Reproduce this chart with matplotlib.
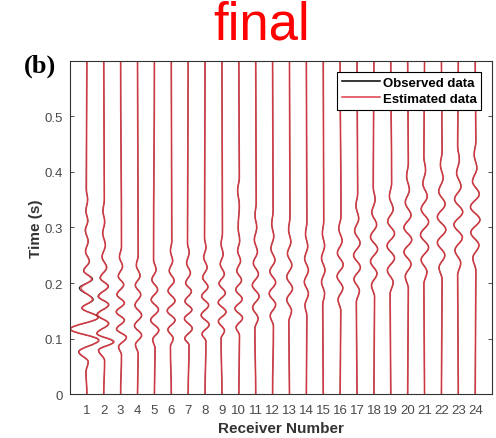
import matplotlib.pyplot as plt
from matplotlib.path import Path
from matplotlib.patches import PathPatch
from matplotlib.lines import Line2D

plt.rcParams['font.family'] = 'Liberation Sans'

# peak/trough picks for each receiver: (time in s, amplitude in trace spacings)
rec01 = [(0.040, -0.05), (0.058, 0.08), (0.076, -0.49), (0.097, 0.69), (0.117, -0.98),
         (0.138, 0.68), (0.155, -0.30), (0.170, 0.38), (0.191, -0.45), (0.207, 0.34),
         (0.222, -0.20), (0.239, 0.15), (0.257, -0.08), (0.275, 0.08), (0.295, -0.10),
         (0.312, 0.06), (0.330, -0.06), (0.350, 0.05), (0.370, -0.04)]
rec02 = [(0.060, 0.05), (0.079, -0.32), (0.094, 0.57), (0.109, -0.41), (0.127, 0.30),
         (0.143, -0.41), (0.161, 0.30), (0.176, -0.34), (0.194, 0.28), (0.209, -0.22),
         (0.228, 0.18), (0.247, -0.10), (0.268, 0.10), (0.290, -0.06), (0.310, 0.06),
         (0.330, -0.05), (0.350, 0.04)]
rec03 = [(0.070, 0.05), (0.085, -0.12), (0.102, 0.34), (0.117, -0.24), (0.133, 0.22),
         (0.148, -0.26), (0.164, 0.22), (0.179, -0.22), (0.197, 0.18), (0.212, -0.14),
         (0.230, 0.11), (0.247, -0.07), (0.265, 0.05)]
rec04 = [(0.072, 0.04), (0.089, -0.12), (0.106, 0.24), (0.123, -0.18), (0.142, 0.24),
         (0.160, -0.15), (0.179, 0.19), (0.196, -0.13), (0.213, 0.15), (0.232, -0.07),
         (0.250, 0.04)]
rec05 = [(0.082, 0.04), (0.098, -0.10), (0.115, 0.26), (0.133, -0.22), (0.152, 0.24),
         (0.170, -0.19), (0.188, 0.19), (0.206, -0.15), (0.224, 0.10), (0.242, -0.05)]
rec06 = [(0.085, -0.05), (0.100, 0.11), (0.116, -0.20), (0.133, 0.22), (0.150, -0.24),
         (0.168, 0.22), (0.186, -0.19), (0.204, 0.17), (0.222, -0.12), (0.240, 0.08),
         (0.258, -0.05), (0.276, 0.03)]
rec07 = [(0.088, 0.05), (0.100, -0.20), (0.118, 0.24), (0.136, -0.22), (0.152, 0.22),
         (0.167, -0.19), (0.185, 0.19), (0.200, -0.15), (0.218, 0.13), (0.236, -0.09),
         (0.255, 0.06), (0.272, -0.04)]
rec08 = [(0.095, 0.05), (0.108, -0.18), (0.125, 0.24), (0.142, -0.23), (0.160, 0.21),
         (0.176, -0.20), (0.193, 0.17), (0.210, -0.14), (0.228, 0.12), (0.246, -0.08),
         (0.264, 0.05), (0.282, -0.03)]
rec09 = [(0.100, -0.05), (0.114, 0.15), (0.131, -0.21), (0.148, 0.24), (0.165, -0.22),
         (0.182, 0.20), (0.199, -0.17), (0.216, 0.14), (0.234, -0.10), (0.252, 0.07),
         (0.270, -0.05), (0.290, 0.03)]
rec10 = [(0.105, 0.04), (0.120, -0.16), (0.137, 0.22), (0.154, -0.23), (0.171, 0.20),
         (0.188, -0.18), (0.205, 0.16), (0.222, -0.12), (0.240, 0.10), (0.258, -0.07),
         (0.276, 0.05), (0.300, -0.04), (0.340, 0.03), (0.367, -0.07), (0.390, 0.03)]
rec11 = [(0.118, -0.05), (0.136, 0.14), (0.156, -0.18), (0.176, 0.20), (0.196, -0.20),
         (0.216, 0.16), (0.236, -0.14), (0.256, 0.10), (0.278, -0.08), (0.300, 0.06),
         (0.322, -0.04), (0.345, 0.03)]
rec12 = [(0.122, 0.05), (0.141, -0.14), (0.161, 0.18), (0.181, -0.20), (0.201, 0.18),
         (0.221, -0.16), (0.241, 0.14), (0.262, -0.10), (0.284, 0.07), (0.306, -0.05),
         (0.330, 0.03)]
rec13 = [(0.130, -0.04), (0.150, 0.12), (0.170, -0.16), (0.190, 0.18), (0.211, -0.16),
         (0.232, 0.14), (0.253, -0.12), (0.274, 0.08), (0.296, -0.05), (0.320, 0.03)]
rec14 = [(0.140, 0.03), (0.160, -0.08), (0.181, 0.12), (0.202, -0.12), (0.223, 0.12),
         (0.244, -0.10), (0.266, 0.08), (0.288, -0.05), (0.310, 0.03)]
rec15 = [(0.160, -0.03), (0.181, 0.08), (0.202, -0.10), (0.223, 0.10), (0.245, -0.10),
         (0.267, 0.08), (0.289, -0.05), (0.312, 0.03)]
rec16 = [(0.150, 0.04), (0.170, -0.12), (0.191, 0.16), (0.212, -0.18), (0.233, 0.18),
         (0.254, -0.16), (0.276, 0.12), (0.298, -0.08), (0.320, 0.05)]
rec17 = [(0.165, -0.04), (0.186, 0.14), (0.207, -0.18), (0.228, 0.20), (0.250, -0.20),
         (0.272, 0.18), (0.294, -0.14), (0.316, 0.10), (0.339, -0.06), (0.362, 0.04)]
rec18 = [(0.175, 0.04), (0.196, -0.14), (0.217, 0.18), (0.239, -0.20), (0.261, 0.22),
         (0.283, -0.20), (0.305, 0.16), (0.327, -0.12), (0.350, 0.07), (0.374, -0.04)]
rec19 = [(0.180, -0.04), (0.201, 0.14), (0.223, -0.20), (0.245, 0.22), (0.267, -0.22),
         (0.289, 0.22), (0.311, -0.18), (0.333, 0.14), (0.356, -0.08), (0.380, 0.05)]
rec20 = [(0.190, 0.04), (0.212, -0.14), (0.234, 0.20), (0.256, -0.22), (0.278, 0.24),
         (0.300, -0.22), (0.322, 0.20), (0.345, -0.14), (0.368, 0.10), (0.392, -0.06),
         (0.416, 0.04)]
rec21 = [(0.198, -0.04), (0.220, 0.14), (0.242, -0.20), (0.264, 0.24), (0.287, -0.24),
         (0.310, 0.24), (0.333, -0.20), (0.356, 0.16), (0.379, -0.10), (0.403, 0.06),
         (0.428, -0.04)]
rec22 = [(0.206, 0.04), (0.228, -0.14), (0.250, 0.20), (0.273, -0.24), (0.296, 0.26),
         (0.319, -0.24), (0.342, 0.22), (0.365, -0.16), (0.389, 0.10), (0.413, -0.06),
         (0.438, 0.04)]
rec23 = [(0.214, -0.04), (0.236, 0.14), (0.259, -0.20), (0.282, 0.24), (0.305, -0.26),
         (0.328, 0.26), (0.351, -0.22), (0.374, 0.16), (0.398, -0.10), (0.422, 0.06),
         (0.447, -0.04)]
rec24 = [(0.222, 0.04), (0.245, -0.14), (0.268, 0.22), (0.291, -0.26), (0.314, 0.28),
         (0.337, -0.28), (0.360, 0.24), (0.383, -0.16), (0.407, 0.10), (0.431, -0.06),
         (0.456, 0.04)]

observed = [rec01, rec02, rec03, rec04, rec05, rec06, rec07, rec08, rec09, rec10, rec11, rec12,
            rec13, rec14, rec15, rec16, rec17, rec18, rec19, rec20, rec21, rec22, rec23, rec24]

# modelled traces: only the near-offset ones differ visibly from the data
est01 = [(0.040, -0.05), (0.058, 0.08), (0.076, -0.47), (0.097, 0.71), (0.117, -0.98),
         (0.138, 0.66), (0.155, -0.28), (0.170, 0.33), (0.191, -0.35), (0.207, 0.28),
         (0.222, -0.18), (0.239, 0.14), (0.257, -0.08), (0.275, 0.07), (0.295, -0.08),
         (0.312, 0.05), (0.330, -0.05), (0.350, 0.04), (0.370, -0.03)]
est02 = [(0.060, 0.05), (0.079, -0.30), (0.094, 0.60), (0.109, -0.40), (0.127, 0.28),
         (0.143, -0.37), (0.161, 0.28), (0.176, -0.30), (0.194, 0.25), (0.209, -0.20),
         (0.228, 0.16), (0.247, -0.10), (0.268, 0.09), (0.290, -0.06), (0.310, 0.05),
         (0.330, -0.04), (0.350, 0.03)]
estimated = [est01, est02] + observed[2:]

receivers = list(range(1, 25))
t_max = 0.6


def wiggle(rec, picks):
    # smooth trace through the picks, vertical tangent at every peak/trough
    pts = [(0.0, 0.0)] + picks + [(t_max, 0.0)]
    verts = [(rec, 0.0)]
    codes = [Path.MOVETO]
    for (t0, a0), (t1, a1) in zip(pts[:-1], pts[1:]):
        h = 0.36 * (t1 - t0)
        verts += [(rec + a0, t0 + h), (rec + a1, t1 - h), (rec + a1, t1)]
        codes += [Path.CURVE4] * 3
    return Path(verts, codes)


fig = plt.figure(figsize=(4.96, 4.39), dpi=100)
ax = fig.add_axes([0.1411, 0.1002, 0.851, 0.7586])

red = '#dc3c46'
for rec, obs, est in zip(receivers, observed, estimated):
    ax.add_patch(PathPatch(wiggle(rec, obs), fill=False, edgecolor='#201010', lw=0.7))
    ax.add_patch(PathPatch(wiggle(rec, est), fill=False, edgecolor=red, lw=1.2, alpha=0.9))

ax.set_xlim(0, 25)
ax.set_ylim(0, t_max)
ax.set_xticks(receivers)
ax.set_yticks([0, 0.1, 0.2, 0.3, 0.4, 0.5])
ax.set_yticklabels(['0', '0.1', '0.2', '0.3', '0.4', '0.5'])
ax.tick_params(direction='in', length=3, width=0.6, colors='#333333', labelsize=9.5,
               labelcolor='#4a4a4a', right=True, top=False)
ax.tick_params(axis='x', pad=7, length=0)
ax.tick_params(axis='y', pad=5)
for s in ax.spines.values():
    s.set_color('#333333')
    s.set_linewidth(0.8)

ax.set_xlabel('Receiver Number', fontsize=11, fontweight='bold', color='#333333', labelpad=4)
ax.set_ylabel('Time (s)', fontsize=11, fontweight='bold', color='#333333')
ax.yaxis.set_label_coords(-0.065, 0.5)

handles = [Line2D([], [], color='black', lw=1.1), Line2D([], [], color=red, lw=1.1)]
leg = ax.legend(handles, ['Observed data', 'Estimated data'], loc='upper right',
                bbox_to_anchor=(0.974, 0.967), borderaxespad=0, fancybox=False,
                framealpha=1, edgecolor='black', handlelength=2.9, handletextpad=0.2,
                borderpad=0.35, labelspacing=0.3, prop={'weight': 'bold', 'size': 9.5})
leg.get_frame().set_linewidth(0.8)

fig.text(0.081, 0.849, '(b)', fontsize=19, fontweight='bold', family='Liberation Serif',
         ha='center', va='center')
fig.text(0.528, 0.942, 'final', fontsize=38, color='red', ha='center', va='center')

fig.savefig('out.png', dpi=100)
